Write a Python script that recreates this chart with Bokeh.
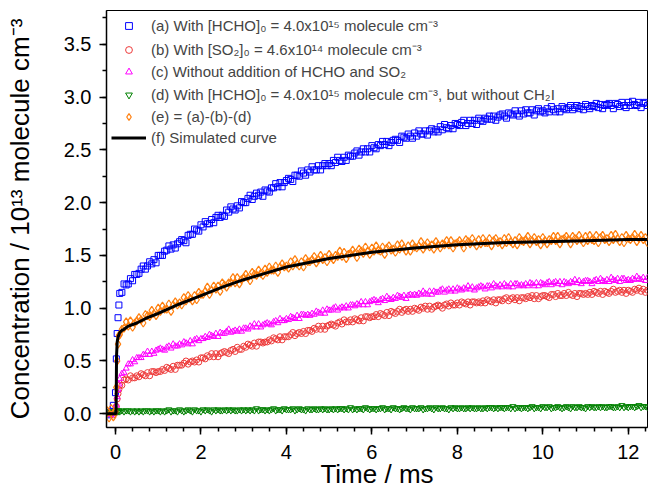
from bokeh.plotting import figure
from bokeh.models import Legend, LegendItem, SingleIntervalTicker, PrintfTickFormatter, Range1d
from bokeh.embed import file_html
from bokeh.resources import INLINE

# ---------------- data ----------------
time_ms = [-0.2, -0.15, -0.1, -0.05, 0.0, 0.02, 0.04, 0.06, 0.08,
           0.1, 0.15, 0.2, 0.25, 0.3, 0.35, 0.4, 0.45, 0.5, 0.55,
           0.6, 0.65, 0.7, 0.75, 0.8, 0.85, 0.9, 0.95, 1.0, 1.05,
           1.1, 1.15, 1.2, 1.25, 1.3, 1.35, 1.4, 1.45, 1.5, 1.55,
           1.6, 1.65, 1.7, 1.75, 1.8, 1.85, 1.9, 1.95, 2.0, 2.05,
           2.1, 2.15, 2.2, 2.25, 2.3, 2.35, 2.4, 2.45, 2.5, 2.55,
           2.6, 2.65, 2.7, 2.75, 2.8, 2.85, 2.9, 2.95, 3.0, 3.05,
           3.1, 3.15, 3.2, 3.25, 3.3, 3.35, 3.4, 3.45, 3.5, 3.55,
           3.6, 3.65, 3.7, 3.75, 3.8, 3.85, 3.9, 3.95, 4.0, 4.05,
           4.1, 4.15, 4.2, 4.25, 4.3, 4.35, 4.4, 4.45, 4.5, 4.55,
           4.6, 4.65, 4.7, 4.75, 4.8, 4.85, 4.9, 4.95, 5.0, 5.05,
           5.1, 5.15, 5.2, 5.25, 5.3, 5.35, 5.4, 5.45, 5.5, 5.55,
           5.6, 5.65, 5.7, 5.75, 5.8, 5.85, 5.9, 5.95, 6.0, 6.05,
           6.1, 6.15, 6.2, 6.25, 6.3, 6.35, 6.4, 6.45, 6.5, 6.55,
           6.6, 6.65, 6.7, 6.75, 6.8, 6.85, 6.9, 6.95, 7.0, 7.05,
           7.1, 7.15, 7.2, 7.25, 7.3, 7.35, 7.4, 7.45, 7.5, 7.55,
           7.6, 7.65, 7.7, 7.75, 7.8, 7.85, 7.9, 7.95, 8.0, 8.05,
           8.1, 8.15, 8.2, 8.25, 8.3, 8.35, 8.4, 8.45, 8.5, 8.55,
           8.6, 8.65, 8.7, 8.75, 8.8, 8.85, 8.9, 8.95, 9.0, 9.05,
           9.1, 9.15, 9.2, 9.25, 9.3, 9.35, 9.4, 9.45, 9.5, 9.55,
           9.6, 9.65, 9.7, 9.75, 9.8, 9.85, 9.9, 9.95, 10.0, 10.05,
           10.1, 10.15, 10.2, 10.25, 10.3, 10.35, 10.4, 10.45, 10.5, 10.55,
           10.6, 10.65, 10.7, 10.75, 10.8, 10.85, 10.9, 10.95, 11.0, 11.05,
           11.1, 11.15, 11.2, 11.25, 11.3, 11.35, 11.4, 11.45, 11.5, 11.55,
           11.6, 11.65, 11.7, 11.75, 11.8, 11.85, 11.9, 11.95, 12.0, 12.05,
           12.1, 12.15, 12.2, 12.25, 12.3, 12.35, 12.4, 12.45]

# (a) With [HCHO]0
conc_a = [0.01, -0.01, 0.02, 0.08, 0.20, 0.52, 0.76, 0.91, 1.03,
          1.14, 1.15, 1.23, 1.22, 1.23, 1.28, 1.26, 1.32, 1.32, 1.33,
          1.37, 1.40, 1.37, 1.40, 1.44, 1.42, 1.46, 1.43, 1.50, 1.50,
          1.50, 1.54, 1.55, 1.59, 1.56, 1.60, 1.57, 1.61, 1.63, 1.65,
          1.64, 1.62, 1.69, 1.70, 1.70, 1.75, 1.74, 1.73, 1.79, 1.77,
          1.82, 1.80, 1.80, 1.84, 1.81, 1.86, 1.88, 1.86, 1.88, 1.87,
          1.93, 1.91, 1.96, 1.94, 1.93, 1.97, 1.95, 2.01, 2.00, 2.00,
          2.04, 2.07, 2.03, 2.06, 2.09, 2.07, 2.10, 2.06, 2.12, 2.11,
          2.10, 2.14, 2.14, 2.18, 2.15, 2.19, 2.15, 2.19, 2.21, 2.23,
          2.22, 2.20, 2.26, 2.26, 2.25, 2.30, 2.28, 2.26, 2.31, 2.29,
          2.34, 2.31, 2.31, 2.35, 2.31, 2.35, 2.37, 2.35, 2.37, 2.35,
          2.40, 2.38, 2.43, 2.40, 2.39, 2.43, 2.40, 2.45, 2.44, 2.44,
          2.47, 2.49, 2.45, 2.48, 2.51, 2.48, 2.51, 2.48, 2.54, 2.52,
          2.51, 2.55, 2.54, 2.58, 2.55, 2.58, 2.54, 2.57, 2.59, 2.60,
          2.59, 2.57, 2.63, 2.62, 2.61, 2.65, 2.63, 2.61, 2.66, 2.63,
          2.68, 2.65, 2.65, 2.68, 2.64, 2.68, 2.70, 2.67, 2.69, 2.67,
          2.72, 2.69, 2.74, 2.71, 2.70, 2.73, 2.70, 2.75, 2.74, 2.73,
          2.76, 2.78, 2.73, 2.75, 2.78, 2.75, 2.78, 2.74, 2.80, 2.78,
          2.77, 2.80, 2.79, 2.82, 2.79, 2.82, 2.78, 2.81, 2.83, 2.84,
          2.82, 2.80, 2.85, 2.84, 2.83, 2.87, 2.84, 2.82, 2.87, 2.84,
          2.88, 2.85, 2.85, 2.88, 2.83, 2.87, 2.89, 2.86, 2.87, 2.85,
          2.89, 2.86, 2.91, 2.88, 2.86, 2.89, 2.86, 2.91, 2.89, 2.88,
          2.90, 2.92, 2.88, 2.90, 2.92, 2.89, 2.91, 2.88, 2.93, 2.91,
          2.89, 2.92, 2.91, 2.94, 2.90, 2.93, 2.89, 2.92, 2.93, 2.94,
          2.92, 2.89, 2.94, 2.93, 2.91, 2.95, 2.92, 2.90, 2.95, 2.92,
          2.96, 2.93, 2.92, 2.95, 2.90, 2.94, 2.95, 2.92]

# (b) With [SO2]0
conc_b = [0.01, 0.00, 0.01, -0.01, 0.01, 0.07, 0.14, 0.19, 0.23,
          0.27, 0.27, 0.32, 0.33, 0.32, 0.36, 0.34, 0.34, 0.36, 0.35,
          0.38, 0.37, 0.36, 0.39, 0.36, 0.40, 0.40, 0.39, 0.40, 0.40,
          0.42, 0.41, 0.44, 0.43, 0.42, 0.45, 0.42, 0.46, 0.46, 0.46,
          0.48, 0.50, 0.47, 0.49, 0.50, 0.49, 0.51, 0.49, 0.53, 0.53,
          0.52, 0.55, 0.54, 0.57, 0.54, 0.57, 0.54, 0.57, 0.58, 0.59,
          0.58, 0.57, 0.60, 0.61, 0.59, 0.63, 0.61, 0.61, 0.64, 0.63,
          0.66, 0.65, 0.64, 0.67, 0.64, 0.68, 0.68, 0.67, 0.68, 0.68,
          0.70, 0.69, 0.72, 0.71, 0.70, 0.73, 0.70, 0.73, 0.73, 0.73,
          0.75, 0.77, 0.74, 0.76, 0.77, 0.76, 0.78, 0.76, 0.79, 0.79,
          0.78, 0.81, 0.80, 0.83, 0.80, 0.83, 0.80, 0.83, 0.84, 0.85,
          0.84, 0.83, 0.86, 0.87, 0.85, 0.89, 0.87, 0.87, 0.89, 0.87,
          0.90, 0.89, 0.88, 0.91, 0.88, 0.92, 0.92, 0.91, 0.92, 0.92,
          0.94, 0.92, 0.95, 0.94, 0.93, 0.96, 0.93, 0.97, 0.96, 0.95,
          0.97, 0.99, 0.96, 0.98, 0.99, 0.97, 0.99, 0.97, 1.00, 0.99,
          0.98, 1.01, 1.00, 1.02, 0.99, 1.02, 0.99, 1.01, 1.02, 1.03,
          1.02, 1.00, 1.03, 1.04, 1.02, 1.05, 1.03, 1.03, 1.05, 1.03,
          1.06, 1.05, 1.04, 1.06, 1.03, 1.06, 1.06, 1.05, 1.06, 1.05,
          1.07, 1.05, 1.08, 1.07, 1.06, 1.08, 1.05, 1.08, 1.08, 1.07,
          1.09, 1.10, 1.07, 1.09, 1.10, 1.08, 1.10, 1.07, 1.10, 1.10,
          1.09, 1.11, 1.10, 1.12, 1.09, 1.12, 1.09, 1.11, 1.12, 1.12,
          1.11, 1.10, 1.13, 1.13, 1.11, 1.14, 1.12, 1.12, 1.14, 1.12,
          1.15, 1.13, 1.12, 1.14, 1.11, 1.14, 1.14, 1.13, 1.14, 1.13,
          1.15, 1.13, 1.16, 1.15, 1.14, 1.16, 1.13, 1.16, 1.15, 1.14,
          1.16, 1.18, 1.15, 1.16, 1.17, 1.15, 1.17, 1.14, 1.17, 1.16,
          1.15, 1.18, 1.17, 1.19, 1.16, 1.18, 1.15, 1.17]

# (c) Without addition of HCHO and SO2
conc_c = [0.00, 0.01, -0.01, 0.01, 0.02, 0.08, 0.16, 0.23, 0.28,
          0.33, 0.38, 0.39, 0.43, 0.47, 0.47, 0.51, 0.49, 0.53, 0.53,
          0.53, 0.56, 0.56, 0.59, 0.56, 0.59, 0.57, 0.60, 0.61, 0.62,
          0.61, 0.60, 0.63, 0.64, 0.62, 0.66, 0.64, 0.64, 0.66, 0.65,
          0.68, 0.67, 0.66, 0.69, 0.66, 0.70, 0.71, 0.69, 0.71, 0.71,
          0.73, 0.72, 0.75, 0.74, 0.73, 0.76, 0.73, 0.77, 0.76, 0.76,
          0.78, 0.80, 0.77, 0.78, 0.79, 0.78, 0.80, 0.78, 0.81, 0.81,
          0.80, 0.83, 0.82, 0.85, 0.82, 0.85, 0.82, 0.84, 0.85, 0.86,
          0.85, 0.84, 0.87, 0.88, 0.86, 0.90, 0.88, 0.88, 0.90, 0.89,
          0.92, 0.91, 0.90, 0.93, 0.90, 0.94, 0.94, 0.93, 0.94, 0.93,
          0.95, 0.94, 0.97, 0.96, 0.95, 0.98, 0.95, 0.99, 0.98, 0.98,
          1.00, 1.01, 0.98, 1.00, 1.01, 1.00, 1.02, 1.00, 1.03, 1.03,
          1.02, 1.04, 1.03, 1.06, 1.03, 1.06, 1.03, 1.06, 1.07, 1.08,
          1.07, 1.05, 1.08, 1.09, 1.07, 1.11, 1.09, 1.08, 1.10, 1.09,
          1.12, 1.11, 1.10, 1.12, 1.09, 1.12, 1.13, 1.12, 1.13, 1.12,
          1.14, 1.13, 1.16, 1.14, 1.13, 1.16, 1.13, 1.16, 1.15, 1.15,
          1.17, 1.18, 1.15, 1.17, 1.18, 1.16, 1.18, 1.16, 1.19, 1.18,
          1.17, 1.19, 1.18, 1.21, 1.18, 1.20, 1.17, 1.19, 1.20, 1.21,
          1.20, 1.18, 1.21, 1.21, 1.19, 1.23, 1.21, 1.20, 1.22, 1.20,
          1.23, 1.21, 1.20, 1.23, 1.20, 1.23, 1.23, 1.21, 1.22, 1.21,
          1.23, 1.21, 1.24, 1.23, 1.21, 1.24, 1.21, 1.24, 1.23, 1.22,
          1.24, 1.25, 1.22, 1.24, 1.25, 1.23, 1.25, 1.22, 1.25, 1.24,
          1.23, 1.25, 1.24, 1.27, 1.24, 1.26, 1.23, 1.25, 1.26, 1.26,
          1.25, 1.23, 1.26, 1.27, 1.25, 1.28, 1.26, 1.25, 1.27, 1.25,
          1.29, 1.27, 1.26, 1.28, 1.25, 1.28, 1.28, 1.26, 1.27, 1.26,
          1.28, 1.27, 1.30, 1.28, 1.27, 1.29, 1.26, 1.29]

# (d) With [HCHO]0, but without CH2I
conc_d = [0.01, 0.02, 0.01, 0.02, 0.02, 0.02, 0.03, 0.02, 0.03,
          0.02, 0.03, 0.02, 0.03, 0.03, 0.02, 0.03, 0.02, 0.03, 0.02,
          0.03, 0.02, 0.03, 0.03, 0.02, 0.03, 0.02, 0.03, 0.03, 0.02,
          0.03, 0.02, 0.03, 0.04, 0.02, 0.03, 0.03, 0.02, 0.04, 0.03,
          0.02, 0.03, 0.04, 0.03, 0.02, 0.04, 0.03, 0.03, 0.02, 0.04,
          0.03, 0.04, 0.03, 0.02, 0.04, 0.03, 0.04, 0.03, 0.03, 0.04,
          0.03, 0.04, 0.03, 0.04, 0.03, 0.03, 0.04, 0.03, 0.04, 0.03,
          0.04, 0.03, 0.04, 0.03, 0.05, 0.03, 0.04, 0.04, 0.03, 0.04,
          0.03, 0.04, 0.05, 0.03, 0.04, 0.04, 0.03, 0.05, 0.04, 0.04,
          0.04, 0.05, 0.03, 0.04, 0.05, 0.04, 0.04, 0.03, 0.05, 0.04,
          0.04, 0.05, 0.04, 0.04, 0.05, 0.04, 0.05, 0.04, 0.04, 0.05,
          0.04, 0.05, 0.04, 0.05, 0.05, 0.04, 0.05, 0.04, 0.06, 0.04,
          0.05, 0.04, 0.05, 0.05, 0.04, 0.06, 0.05, 0.04, 0.05, 0.05,
          0.04, 0.05, 0.05, 0.06, 0.04, 0.05, 0.05, 0.04, 0.06, 0.05,
          0.05, 0.04, 0.05, 0.06, 0.05, 0.05, 0.04, 0.06, 0.05, 0.05,
          0.05, 0.06, 0.04, 0.05, 0.05, 0.06, 0.05, 0.04, 0.06, 0.05,
          0.05, 0.06, 0.05, 0.05, 0.04, 0.06, 0.05, 0.06, 0.05, 0.05,
          0.06, 0.05, 0.05, 0.06, 0.05, 0.06, 0.05, 0.05, 0.06, 0.05,
          0.05, 0.06, 0.05, 0.06, 0.06, 0.05, 0.06, 0.05, 0.06, 0.06,
          0.05, 0.06, 0.06, 0.05, 0.07, 0.05, 0.06, 0.06, 0.05, 0.06,
          0.06, 0.05, 0.06, 0.07, 0.05, 0.06, 0.06, 0.05, 0.07, 0.06,
          0.06, 0.07, 0.05, 0.06, 0.06, 0.07, 0.06, 0.05, 0.06, 0.07,
          0.06, 0.05, 0.07, 0.06, 0.06, 0.07, 0.06, 0.06, 0.05, 0.07,
          0.06, 0.07, 0.06, 0.06, 0.07, 0.06, 0.07, 0.06, 0.06, 0.07,
          0.07, 0.06, 0.06, 0.07, 0.06, 0.08, 0.06, 0.07, 0.06, 0.07,
          0.07, 0.06, 0.07, 0.08, 0.06, 0.07, 0.07, 0.06]

# (e) = (a)-(b)-(d)
conc_e = [0.03, -0.04, 0.05, -0.03, 0.02, 0.25, 0.50, 0.66, 0.74,
          0.75, 0.80, 0.81, 0.87, 0.83, 0.88, 0.82, 0.86, 0.88, 0.91,
          0.89, 0.86, 0.94, 0.93, 0.92, 0.98, 0.95, 0.93, 1.00, 0.97,
          1.02, 0.99, 0.99, 1.04, 0.97, 1.03, 1.06, 1.03, 1.05, 1.03,
          1.10, 1.07, 1.12, 1.09, 1.07, 1.12, 1.08, 1.15, 1.13, 1.13,
          1.16, 1.20, 1.13, 1.17, 1.21, 1.18, 1.21, 1.16, 1.24, 1.22,
          1.20, 1.24, 1.24, 1.29, 1.24, 1.29, 1.23, 1.27, 1.29, 1.32,
          1.29, 1.26, 1.34, 1.32, 1.31, 1.36, 1.33, 1.31, 1.37, 1.34,
          1.39, 1.36, 1.36, 1.40, 1.34, 1.39, 1.42, 1.39, 1.40, 1.38,
          1.44, 1.40, 1.46, 1.42, 1.40, 1.44, 1.39, 1.47, 1.44, 1.44,
          1.46, 1.49, 1.43, 1.46, 1.50, 1.46, 1.48, 1.44, 1.51, 1.48,
          1.46, 1.50, 1.49, 1.54, 1.49, 1.53, 1.47, 1.51, 1.52, 1.55,
          1.52, 1.48, 1.56, 1.54, 1.52, 1.58, 1.54, 1.51, 1.57, 1.54,
          1.59, 1.55, 1.54, 1.58, 1.51, 1.57, 1.59, 1.55, 1.56, 1.53,
          1.60, 1.56, 1.61, 1.57, 1.54, 1.59, 1.54, 1.61, 1.58, 1.57,
          1.59, 1.63, 1.56, 1.59, 1.62, 1.58, 1.60, 1.56, 1.63, 1.60,
          1.57, 1.61, 1.60, 1.64, 1.60, 1.64, 1.57, 1.61, 1.62, 1.64,
          1.61, 1.57, 1.65, 1.63, 1.61, 1.66, 1.62, 1.59, 1.65, 1.61,
          1.66, 1.62, 1.62, 1.66, 1.59, 1.64, 1.66, 1.62, 1.63, 1.60,
          1.66, 1.62, 1.67, 1.63, 1.61, 1.64, 1.60, 1.67, 1.64, 1.63,
          1.65, 1.68, 1.61, 1.64, 1.67, 1.63, 1.65, 1.60, 1.67, 1.64,
          1.61, 1.65, 1.64, 1.68, 1.64, 1.68, 1.61, 1.65, 1.66, 1.68,
          1.65, 1.61, 1.68, 1.66, 1.64, 1.69, 1.65, 1.62, 1.68, 1.64,
          1.69, 1.65, 1.64, 1.69, 1.62, 1.67, 1.69, 1.65, 1.66, 1.63,
          1.69, 1.65, 1.70, 1.66, 1.63, 1.67, 1.62, 1.69, 1.66, 1.65,
          1.67, 1.70, 1.63, 1.66, 1.69, 1.65, 1.67, 1.62]

# (f) Simulated curve
sim_time = [-0.2, 0.0, 0.015, 0.025, 0.04, 0.06, 0.1, 0.15, 0.2, 0.3, 0.5, 0.75,
            1.0, 1.5, 2.0, 2.5, 3.0, 3.5, 4.0, 4.5, 5.0, 6.0, 7.0, 8.0, 9.0,
            10.0, 11.0, 12.0, 12.45]
sim_conc = [0.0, 0.0, 0.0, 0.55, 0.68, 0.73, 0.77, 0.79, 0.80, 0.83, 0.86, 0.91,
            0.95, 1.04, 1.12, 1.20, 1.27, 1.33, 1.39, 1.43, 1.47, 1.53, 1.57, 1.60, 1.62,
            1.63, 1.64, 1.65, 1.65]

labels = [
    "(a) With [HCHO]\u2080 = 4.0x10\u00b9\u2075 molecule cm\u207b\u00b3",
    "(b) With [SO\u2082]\u2080 = 4.6x10\u00b9\u2074 molecule cm\u207b\u00b3",
    "(c) Without addition of HCHO and SO\u2082",
    "(d) With [HCHO]\u2080 = 4.0x10\u00b9\u2075 molecule cm\u207b\u00b3, but without CH\u2082I",
    "(e) = (a)-(b)-(d)",
    "(f) Simulated curve",
]
x_title = "Time / ms"
y_title = "Concentration / 10\u00b9\u00b3 molecule cm\u207b\u00b3"

for s in (conc_a, conc_b, conc_c, conc_d, conc_e):
    assert len(s) == len(time_ms), (len(s), len(time_ms))

FONT = "Liberation Sans"

p = figure(width=649, height=492, output_backend="svg", toolbar_location=None,
           x_range=Range1d(-0.21, 12.45), y_range=Range1d(-0.13, 3.82),
           min_border_left=106, min_border_right=2, min_border_top=10,
           min_border_bottom=65)

p.xgrid.visible = False
p.ygrid.visible = False
p.outline_line_color = "black"
p.outline_line_width = 1
p.background_fill_color = "white"
p.border_fill_color = "white"

r_a = p.scatter(time_ms, conc_a, marker="square", size=6, fill_color=None,
                line_color="#0000FF", line_width=1)
r_b = p.scatter(time_ms, conc_b, marker="circle", size=6, fill_color=None,
                line_color="#EE3B3B", line_width=1)
r_c = p.scatter(time_ms, conc_c, marker="triangle", size=6, fill_color=None,
                line_color="#FF00FF", line_width=1)
r_d = p.scatter(time_ms, conc_d, marker="inverted_triangle", size=6, fill_color=None,
                line_color="#008000", line_width=1)
r_e = p.scatter(time_ms, conc_e, marker="diamond", size=8, fill_color=None,
                line_color="#FF7F0E", line_width=1.2)
r_f = p.line(sim_time, sim_conc, line_color="black", line_width=3)

legend = Legend(items=[LegendItem(label=l, renderers=[r]) for l, r in
                       zip(labels, [r_a, r_b, r_c, r_d, r_e, r_f])],
                location="top_left", margin=0, padding=5, spacing=4,
                glyph_width=35, glyph_height=17, label_height=17, label_standoff=5,
                label_text_font=FONT, label_text_font_size="15px",
                border_line_alpha=0, background_fill_alpha=0)
p.add_layout(legend)

p.xaxis.ticker = SingleIntervalTicker(interval=2, num_minor_ticks=5)
p.yaxis.ticker = SingleIntervalTicker(interval=0.5, num_minor_ticks=2)
p.yaxis.formatter = PrintfTickFormatter(format="%.1f")
p.xaxis.formatter = PrintfTickFormatter(format="%d")

p.xaxis.axis_label = x_title
p.yaxis.axis_label = y_title

for ax in (p.xaxis[0], p.yaxis[0]):
    ax.axis_line_width = 1.5
    ax.major_tick_line_width = 1.5
    ax.minor_tick_line_width = 1.5
    ax.major_tick_in = 0
    ax.minor_tick_in = 0
    ax.major_tick_out = 7
    ax.minor_tick_out = 4
    ax.major_label_text_font = FONT
    ax.major_label_text_font_size = "20px"
    ax.major_label_text_color = "black"
    ax.axis_label_text_font = FONT
    ax.axis_label_text_font_size = "26px"
    ax.axis_label_text_font_style = "normal"
    ax.axis_label_text_color = "black"

p.xaxis.major_label_standoff = 10
p.xaxis.axis_label_standoff = -3
p.yaxis.major_label_standoff = 8
p.yaxis.axis_label_standoff = 26

open("out.html", "w").write(file_html(p, INLINE))
